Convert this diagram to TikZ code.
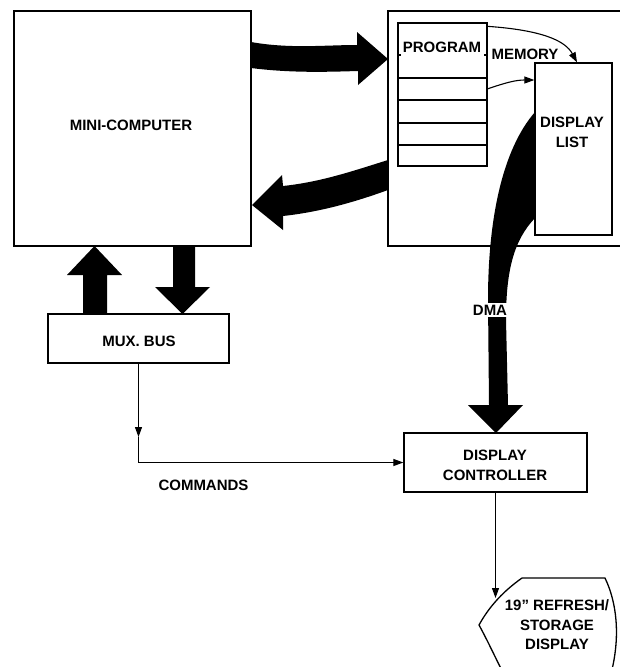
\documentclass[tikz,border=0pt]{standalone}
\usepackage{fontspec}
\setmainfont{Liberation Sans}
\usetikzlibrary{arrows.meta}
\begin{document}
\begin{tikzpicture}[x=1pt,y=-1pt,
  box/.style={draw, line width=1.3pt, fill=white, inner sep=0pt},
  lbl/.style={font=\fontsize{15}{19.5}\selectfont\bfseries, align=center, inner sep=1pt},
  thinline/.style={line width=1.1pt},
  tip/.style={-{Triangle[length=10pt,width=7pt]}},
  fat/.style={fill=black}]
\useasboundingbox (0,0) rectangle (620,667);
\clip (0,0) rectangle (620,667);
\fill[white] (0,0) rectangle (620,667);

% main boxes
\node[box, minimum width=237pt, minimum height=235pt] (mc) at (132.5,128.5) {};
\node[lbl] (mctext) at (131,125) {MINI-COMPUTER};
\node[box, minimum width=240pt, minimum height=235pt] (mem) at (508,128.5) {};

% program stack
\node[box, minimum width=89pt, minimum height=143pt] (prog) at (442.5,94.5) {};
\foreach \yy in {78,100,123,145} \draw[line width=1.3pt] (398,\yy) -- (487,\yy);
\draw[line width=1.1pt] (398,55) -- (401,55) (484,55) -- (487,55);
\node[lbl] (progtext) at (442,47) {PROGRAM};
\node[lbl] (memtext) at (525,54) {MEMORY};

% display list
\node[box, minimum width=77pt, minimum height=172pt] (dl) at (573.5,149) {};
\node[lbl] (dltext) at (572,132.5) {DISPLAY\\LIST};

% thin arrows in memory
\draw[thinline, tip] (prog.north east) ++(0,4) .. controls (540,30) and (565,40) .. (dl.north -| 577,0);
\draw[thinline, tip] (487,89) .. controls (505,83) and (515,80) .. (dl.west |- 0,80);

% MUX bus
\node[box, minimum width=181pt, minimum height=49pt] (mux) at (138.5,338.5) {};
\node[lbl] (muxtext) at (139,341) {MUX. BUS};

% display controller
\node[box, minimum width=183pt, minimum height=59pt] (dc) at (495.5,462.5) {};
\node[lbl] (dctext) at (495,465.5) {DISPLAY\\CONTROLLER};

% fat arrow mini-computer -> memory
\fill[fat] (251,42) .. controls (290,49) and (325,45) .. (357,45)
  -- (357,32) -- (388,59) -- (358,85) -- (358,71)
  .. controls (325,72) and (290,73) .. (251,68) -- cycle;
% fat arrow memory -> mini-computer
\fill[fat] (388,160) .. controls (350,172) and (320,182) .. (283,186)
  -- (282,175) -- (252,205) -- (283,230) -- (283,216)
  .. controls (320,212) and (355,202) .. (388,190) -- cycle;
% up arrow mux -> mini-computer
\fill[fat] (83,314) -- (83,275) -- (67,275) -- (94.5,246) -- (122,275) -- (107,275) -- (107,314) -- cycle;
% down arrow mini-computer -> mux
\fill[fat] (173,246) -- (173,287) -- (155,287) -- (182.5,314) -- (210,287) -- (195,287) -- (195,246) -- cycle;

% DMA fat arrow
\fill[fat] (535,112) .. controls (502,150) and (488,220) .. (488,300)
  -- (489,405) -- (468,405) -- (496,433) -- (523,405) -- (508,405)
  -- (506,320) .. controls (506,270) and (514,240) .. (535,218) -- cycle;
\node[lbl, fill=white, inner sep=1.5pt] (dma) at (490,310) {DMA};

% commands
\coordinate (cmdmid) at (mux.south |- 0,437);
\draw[thinline, tip] (mux.south) -- (cmdmid);
\draw[thinline, tip] (cmdmid) -- (mux.south |- dc.west) -- (dc.west);
\node[lbl] (cmdtext) at (203.5,485) {COMMANDS};

% display
\draw[line width=1.3pt, fill=white] (522,578) -- (605,578)
  .. controls (618,605) and (622,645) .. (606,690)
  -- (512,690) .. controls (500,668) and (490,645) .. (479,625)
  .. controls (490,605) and (505,590) .. (522,578) -- cycle;
\node[lbl] (disp) at (557,625) {19'' REFRESH/\\STORAGE\\DISPLAY};
\coordinate (dispin) at (dc.south |- 0,598);
\draw[thinline, tip] (dc.south) -- (dispin);
\end{tikzpicture}
\end{document}
